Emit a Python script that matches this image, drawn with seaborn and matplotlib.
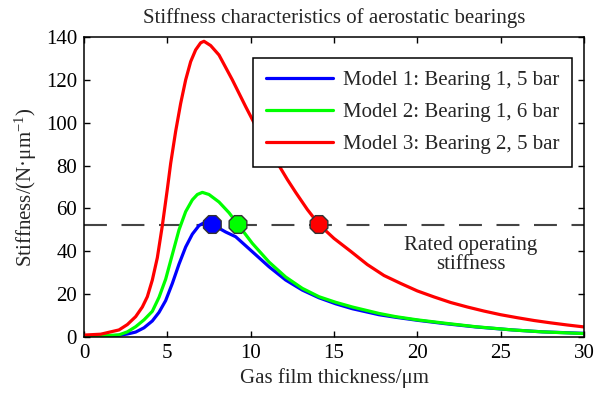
import numpy as np
import pandas as pd
import matplotlib
matplotlib.use("Agg")
import matplotlib.pyplot as plt
import seaborn as sns

# ---- data ----
red_x = [0, 1, 2.1, 2.6, 3.1, 3.5, 3.8, 4.1, 4.4, 4.7, 5.0, 5.2, 5.5, 5.8, 6.1, 6.4, 6.7,
         7.0, 7.2, 7.6, 8.1, 8.9, 9.7, 10.2, 10.7, 11.2, 11.7, 12.2, 12.7, 13.4, 14.1,
         15, 16, 17, 18, 19, 20, 21, 22, 23, 24, 25, 26, 27, 28, 29, 30]
red_y = [0.9, 1.3, 3.3, 5.8, 9.5, 14, 18.8, 26.6, 37, 52, 69, 81, 96, 109, 120, 128.5, 134,
         137.3, 138, 136, 131.6, 120, 107.5, 100, 93, 86, 80, 73.5, 67.5, 59.5, 52.5,
         46, 40, 33.8, 28.7, 25, 21.5, 18.7, 16.1, 14, 12.1, 10.4, 9, 7.7, 6.6, 5.6, 4.7]

green_x = [0, 1, 2.1, 2.6, 3.1, 3.6, 4.1, 4.5, 4.9, 5.3, 5.7, 6.1, 6.5, 6.8, 7.1, 7.5, 8.1,
           8.7, 9.24, 10.1, 11.1, 12.1, 13.1, 14.1, 15.1, 16.1, 17.7, 18.7, 20, 21.7,
           23.5, 25.7, 27.5, 30]
green_y = [0.3, 0.5, 1.0, 2.4, 4.8, 8, 12, 18.5, 27, 38.5, 50, 58.5, 64, 66.5, 67.5, 66.5, 63,
           58, 52.5, 43.7, 35, 28, 22.7, 18.8, 16.2, 14, 11, 9.5, 8, 6.4, 4.8, 3.3, 2.4, 1.6]

blue_x = [0, 1, 2.1, 2.6, 3.1, 3.6, 4.1, 4.5, 4.9, 5.3, 5.7, 6.1, 6.5, 6.9, 7.2, 7.7, 8.5,
          9.1, 10.1, 11.1, 12.1, 13.1, 14.1, 15.1, 16.1, 17.7, 18.7, 20, 21.7, 23.5,
          25.7, 27.5, 30]
blue_y = [0.2, 0.3, 0.8, 1.4, 2.3, 4.3, 7.5, 11.5, 17, 25, 34, 42, 48, 52, 53.3, 52.5, 49,
          46.8, 39.8, 32.8, 26.6, 21.9, 18.3, 15.5, 13.2, 10.4, 9.2, 7.8, 6.2, 4.7,
          3.3, 2.4, 1.7]

labels = ["Model 1: Bearing 1, 5 bar", "Model 2: Bearing 1, 6 bar", "Model 3: Bearing 2, 5 bar"]
colors = ["#0000ff", "#00ff00", "#ff0000"]
rated = 52.5
marker_x = [7.7, 9.24, 14.1]

x_ticks = [0, 5, 10, 15, 20, 25, 30]
y_ticks = [0, 20, 40, 60, 80, 100, 120, 140]

# ---- style ----
sns.set_theme(style="white")
plt.rcParams["font.family"] = ["Liberation Serif", "DejaVu Serif"]
plt.rcParams["mathtext.fontset"] = "custom"
plt.rcParams["mathtext.rm"] = "Liberation Serif"
plt.rcParams["mathtext.it"] = "Liberation Serif:italic"

fig = plt.figure(figsize=(5.97, 3.97), dpi=100)
ax = fig.add_axes([84 / 597, 1 - 337 / 397, 500 / 597, 300 / 397])

ax.axhline(rated, color="#444444", lw=1.5, dashes=(11, 7), zorder=1)

series = [(blue_x, blue_y), (green_x, green_y), (red_x, red_y)]
for (xs, ys), lab, c in zip(series, labels, colors):
    df = pd.DataFrame({"x": xs, "y": ys})
    sns.lineplot(data=df, x="x", y="y", ax=ax, color=c, lw=2.3, label=lab,
                 sort=False, estimator=None, zorder=2)

mdf = pd.DataFrame({"x": marker_x, "y": [rated] * 3, "m": labels})
sns.scatterplot(data=mdf, x="x", y="y", hue="m", palette=colors, marker="8",
                s=190, edgecolor="#333333", linewidth=1.0, ax=ax, legend=False, zorder=5)

ax.set_xlim(0, 30)
ax.set_ylim(0, 140)
ax.set_xticks(x_ticks)
ax.set_yticks(y_ticks)
ax.tick_params(direction="in", length=4, width=1, top=True, right=True,
               bottom=True, left=True, labelsize=15, colors="black", pad=5)
for s in ax.spines.values():
    s.set_visible(True)
    s.set_color("black")
    s.set_linewidth(1.1)

ax.set_xlabel("Gas film thickness/μm", fontsize=15, labelpad=4)
ax.set_ylabel("Stiffness/(N·μm$^{-1}$)", fontsize=15, labelpad=5)
ax.set_title("Stiffness characteristics of aerostatic bearings", fontsize=15, pad=10)

ax.text(23.2, 38.3, "Rated operating\nstiffness", ha="center", va="center",
        fontsize=15, linespacing=1.0)

leg = ax.legend(loc="upper right", bbox_to_anchor=(0.976, 0.93), fontsize=15,
                frameon=True, fancybox=False, edgecolor="black", framealpha=1,
                handlelength=3.2, handletextpad=0.5, labelspacing=0.6,
                borderpad=0.6, borderaxespad=0)
leg.get_frame().set_linewidth(1.1)

fig.savefig("out.png", dpi=100)
